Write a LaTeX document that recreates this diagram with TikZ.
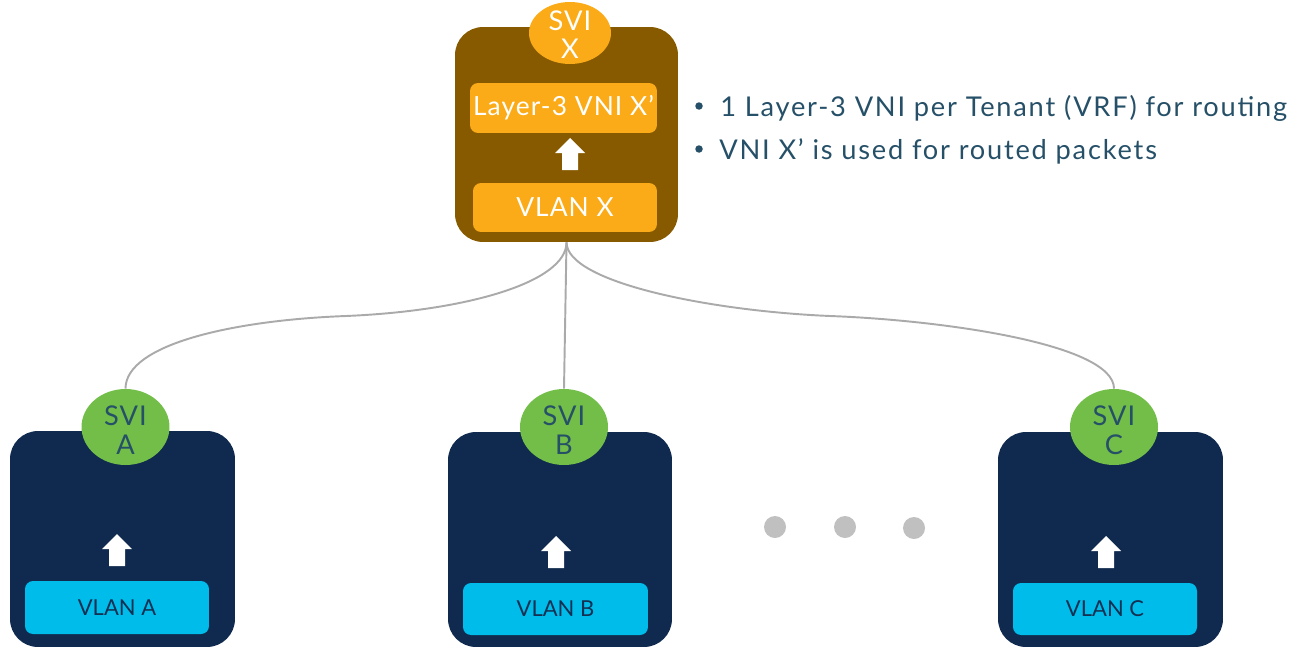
\documentclass[tikz,border=0pt]{standalone}
\usepackage{fontspec}
\setmainfont{Lato}
\newfontfamily\spaced[LetterSpace=6.5]{Lato}
\newfontfamily\sspaced[LetterSpace=4]{Lato}
\usetikzlibrary{shapes.geometric}
\definecolor{cbrown}{RGB}{135,90,0}
\definecolor{corange}{RGB}{251,171,24}
\definecolor{cnavy}{RGB}{15,42,78}
\definecolor{cgreen}{RGB}{114,190,72}
\definecolor{ccyan}{RGB}{0,188,235}
\definecolor{ctext}{RGB}{38,80,104}
\definecolor{cvlan}{RGB}{18,48,82}
\definecolor{cline}{RGB}{170,170,170}
\definecolor{cdot}{RGB}{192,192,192}
\newcommand{\svilab}[2]{\raisebox{-#2}[0pt][0pt]{\begin{tabular}[b]{@{}c@{}}SVI\\#1\end{tabular}}}
\tikzset{
  outerbox/.style={rounded corners=0.56cm, inner sep=0pt},
  innerbox/.style={rounded corners=0.16cm, inner sep=0pt, align=center},
  svi/.style={ellipse, inner sep=0pt, font=\sspaced\fontsize{15.5}{16.5}\selectfont},
  link/.style={draw=cline, line width=1.1pt},
  bullet/.style={anchor=base west, inner sep=0pt, text=ctext, font=\spaced\fontsize{15.5}{19}\selectfont},
  bdot/.style={circle, fill=ctext, inner sep=0pt, minimum size=0.15cm},
  pics/uparr/.style={code={\fill[white] (0,-16) -- (15,-1) -- (8,-1) -- (8,16) -- (-8,16) -- (-8,-1) -- (-15,-1) -- cycle;}}
}
\begin{document}
\begin{tikzpicture}[x=0.02cm,y=-0.02cm]
\useasboundingbox (0,0) rectangle (1297,649);
% top box
\node[outerbox, fill=cbrown, minimum width=4.46cm, minimum height=4.30cm] (top) at (566.5,134.5) {};
\node[innerbox, fill=corange, minimum width=3.74cm, minimum height=1.0cm, text=white, font=\sspaced\fontsize{15}{18}\selectfont] (l3) at (563.5,108) {Layer-3 VNI X’};
\node[innerbox, fill=corange, minimum width=3.68cm, minimum height=0.98cm, text=white, font=\sspaced\fontsize{15}{18}\selectfont] (vlanx) at (565,207.5) {VLAN X};
\pic at (570,154) {uparr};
\node[svi, fill=corange, minimum width=1.64cm, minimum height=1.24cm, text=white] (svix) at (570,33) {\svilab{X}{0.52cm}};
% bottom boxes
\node[outerbox, fill=cnavy, minimum width=4.50cm, minimum height=4.32cm] (boxa) at (122.5,539) {};
\node[outerbox, fill=cnavy, minimum width=4.48cm, minimum height=4.30cm] (boxb) at (560,539.5) {};
\node[outerbox, fill=cnavy, minimum width=4.50cm, minimum height=4.30cm] (boxc) at (1110.5,539.5) {};
\node[innerbox, fill=ccyan, minimum width=3.68cm, minimum height=1.06cm, text=cvlan, font=\fontsize{12.5}{15}\selectfont] (vlana) at (117,607.5) {VLAN A};
\node[innerbox, fill=ccyan, minimum width=3.70cm, minimum height=1.04cm, text=cvlan, font=\fontsize{12.5}{15}\selectfont] (vlanb) at (555.5,609) {VLAN B};
\node[innerbox, fill=ccyan, minimum width=3.68cm, minimum height=1.04cm, text=cvlan, font=\fontsize{12.5}{15}\selectfont] (vlanc) at (1105,609) {VLAN C};
\pic at (117,550) {uparr};
\pic at (556,552) {uparr};
\pic at (1106,552) {uparr};
\node[svi, fill=cgreen, minimum width=1.76cm, minimum height=1.52cm, text=ctext] (svia) at (125.5,427) {\svilab{A}{0.54cm}};
\node[svi, fill=cgreen, minimum width=1.76cm, minimum height=1.52cm, text=ctext] (svib) at (564,427) {\svilab{B}{0.54cm}};
\node[svi, fill=cgreen, minimum width=1.76cm, minimum height=1.52cm, text=ctext] (svic) at (1114,427) {\svilab{C}{0.54cm}};
% connectors
\coordinate (midA) at (346,316);
\coordinate (midC) at (830,316);
\draw[link] (top.south) .. controls +(0,40) and +(120,-5) .. (midA) .. controls +(-110,4) and +(0,-45) .. (svia.north);
\draw[link] (top.south) -- (svib.north);
\draw[link] (top.south) .. controls +(0,40) and +(-120,-5) .. (midC) .. controls +(110,4) and +(0,-45) .. (svic.north);
% dots
\fill[cdot] (775,527) circle[radius=11];
\fill[cdot] (845,527) circle[radius=11];
\fill[cdot] (914,528) circle[radius=11];
% bullets
\node[bdot] (d1) at (699,106) {};
\node[bdot] (d2) at (699,149) {};
\node[bullet] (b1) at (720,116) {1 Layer-3 VNI per Tenant (VRF) for routing};
\node[bullet] (b2) at (719,159) {VNI X’ is used for routed packets};
\end{tikzpicture}
\end{document}
